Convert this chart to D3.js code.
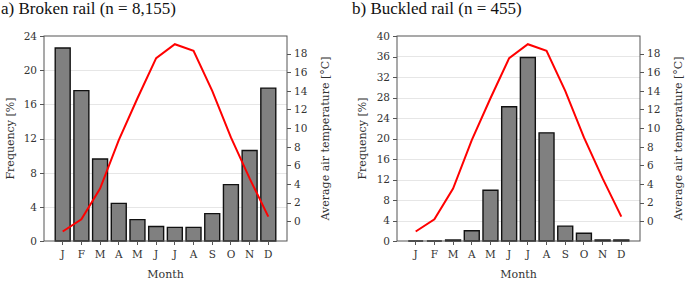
<!DOCTYPE html>
<html>
<head>
    <meta charset="UTF-8">
    <script src="https://d3js.org/d3.v7.min.js"></script>
    <style>
        body { margin: 0; background: #fff; }
        svg { display: block; }
        .tick text { font-family: "DejaVu Serif", serif; font-size: 10.5px; fill: #333; }
        .axis path, .axis line { stroke: #555; shape-rendering: crispEdges; }
        .axis-label { font-family: "DejaVu Serif", serif; font-size: 11px; fill: #333; }
        .grid line { stroke: #e6e6e6; shape-rendering: crispEdges; }
    </style>
</head>
<body>
<svg width="685" height="281"></svg>
<script>
    // Podaci
    const months = ["J", "F", "M", "A", "M2", "J2", "J3", "A2", "S", "O", "N", "D"];
    const monthLabels = ["J", "F", "M", "A", "M", "J", "J", "A", "S", "O", "N", "D"];
    const brokenFreq = [22.6, 17.6, 9.6, 4.4, 2.5, 1.7, 1.6, 1.6, 3.2, 6.6, 10.6, 17.9];
    const buckledFreq = [0, 0, 0.2, 2.0, 9.9, 26.2, 35.8, 21.1, 2.9, 1.5, 0.2, 0.2];
    const airTemp = [-1.1, 0.2, 3.5, 8.7, 13.2, 17.5, 19.0, 18.3, 14.0, 9.0, 4.6, 0.5];
    const freqTicksA = [0, 4, 8, 12, 16, 20, 24];
    const freqTicksB = [0, 4, 8, 12, 16, 20, 24, 28, 32, 36, 40];
    const tempTicks = [0, 2, 4, 6, 8, 10, 12, 14, 16, 18];

    const svg = d3.select("svg");

    function drawPanel(o) {
        const width = o.right - o.left;
        const height = o.bottom - o.top;

        svg.append("text")
            .style("font-family", "'Liberation Serif'")
            .style("font-size", "17px")
            .style("fill", "#111")
            .attr("x", o.titleX)
            .attr("y", 14)
            .text(o.title);

        const g = svg.append("g")
            .attr("transform", "translate(" + o.left + "," + o.top + ")");

        // X skala - mjeseci
        const x = d3.scaleBand()
            .domain(months)
            .range([0, width])
            .paddingInner(0.2)
            .paddingOuter(0.6);

        const y = d3.scaleLinear()
            .domain([0, d3.max(o.ticks)])
            .range([height, 0]);

        const yT = d3.scaleLinear()
            .domain([-2.12, 19.88])
            .range([height, 0]);

        // mreža
        g.append("g")
            .attr("class", "grid")
            .selectAll("line")
            .data(o.ticks.slice(1, -1))
            .enter().append("line")
            .attr("x1", 0)
            .attr("x2", width)
            .attr("y1", d => Math.round(y(d)) + 0.5)
            .attr("y2", d => Math.round(y(d)) + 0.5);

        // stupci
        g.selectAll(".bar")
            .data(o.values)
            .enter().append("path")
            .attr("class", "bar")
            .attr("d", (d, i) => {
                const x0 = x(months[i]), x1 = x0 + x.bandwidth();
                return "M" + x0 + "," + height + "V" + y(d) + "H" + x1 + "V" + height + "Z";
            })
            .attr("fill", "#808080")
            .attr("stroke", "#111")
            .attr("stroke-width", 1.4)
            .attr("stroke-linejoin", "miter");

        // linija temperature
        const line = d3.line()
            .x((d, i) => x(months[i]) + x.bandwidth() / 2)
            .y(d => yT(d));

        g.append("path")
            .datum(airTemp)
            .attr("d", line)
            .attr("fill", "none")
            .attr("stroke", "#ff0000")
            .attr("stroke-width", 2);

        // okvir
        g.append("rect")
            .attr("x", 0)
            .attr("y", 0)
            .attr("width", width)
            .attr("height", height)
            .attr("fill", "none")
            .attr("stroke", "#555")
            .attr("stroke-width", 1);

        // X os
        g.append("g")
            .attr("class", "axis")
            .attr("transform", "translate(0," + height + ")")
            .call(d3.axisBottom(x).tickSize(4).tickPadding(6)
                .tickFormat((d, i) => monthLabels[i]))
            .call(a => a.select(".domain").remove());

        // lijeva Y os
        g.append("g")
            .attr("class", "axis")
            .call(d3.axisLeft(y).tickValues(o.ticks).tickSize(4).tickPadding(3))
            .call(a => a.select(".domain").remove());

        // desna Y os
        g.append("g")
            .attr("class", "axis")
            .attr("transform", "translate(" + width + ",0)")
            .call(d3.axisRight(yT).tickValues(tempTicks).tickSize(4).tickPadding(3))
            .call(a => a.select(".domain").remove());

        // oznake osi
        g.append("text")
            .attr("class", "axis-label")
            .attr("transform", "rotate(-90)")
            .attr("x", -height / 2)
            .attr("y", o.yLabelX - o.left)
            .style("text-anchor", "middle")
            .text("Frequency [%]");

        g.append("text")
            .attr("class", "axis-label")
            .attr("transform", "rotate(-90)")
            .attr("x", -height / 2)
            .attr("y", o.tLabelX - o.left)
            .style("text-anchor", "middle")
            .text("Average air temperature [°C]");

        g.append("text")
            .attr("class", "axis-label")
            .attr("x", width / 2)
            .attr("y", 278 - o.top)
            .style("text-anchor", "middle")
            .text("Month");
    }

    drawPanel({
        title: "a) Broken rail (n = 8,155)", titleX: 1,
        left: 44, right: 287, top: 36, bottom: 241,
        values: brokenFreq, ticks: freqTicksA,
        yLabelX: 14, tLabelX: 329
    });

    drawPanel({
        title: "b) Buckled rail (n = 455)", titleX: 352,
        left: 397, right: 640, top: 36, bottom: 241,
        values: buckledFreq, ticks: freqTicksB,
        yLabelX: 366, tLabelX: 682
    });
</script>
</body>
</html>
